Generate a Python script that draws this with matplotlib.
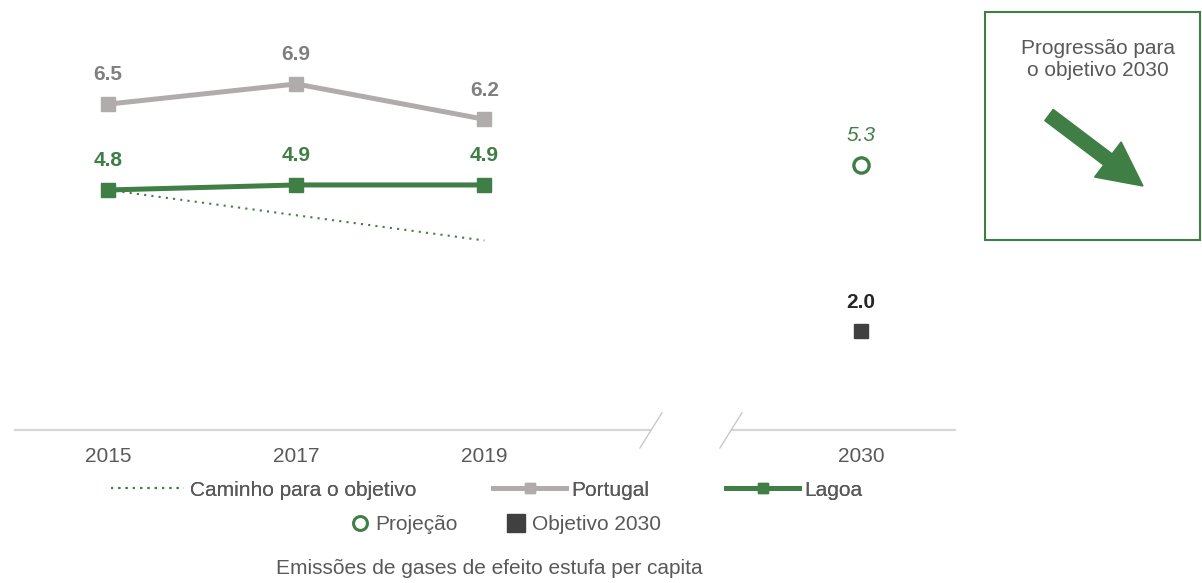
import matplotlib
matplotlib.use('Agg')
import matplotlib.pyplot as plt
from matplotlib.lines import Line2D
from matplotlib.patches import Rectangle, FancyArrow
from matplotlib.transforms import IdentityTransform

plt.rcParams['font.family'] = ['Liberation Sans', 'DejaVu Sans']

# data
years = ['2015', '2017', '2019', '2030']
year_pos = [0, 1, 2, 4]          # 2030 sits after the axis break
portugal = [6.5, 6.9, 6.2]
lagoa = [4.8, 4.9, 4.9]
caminho = [4.8, 4.3, 3.8]        # path towards the 2030 target
projecao_2030 = 5.3
objetivo_2030 = 2.0

GREEN = '#3f7e44'
GREY_LINE = '#b1acac'
GREY_LABEL = '#7f7f7f'
TEXT = '#595959'
DARK = '#404040'

fig = plt.figure(figsize=(12.02, 5.83), dpi=100)
ax = fig.add_axes([15 / 1202, (583 - 430) / 583, 940 / 1202, 430 / 583])
ax.set_xlim(-0.494, 4.5)
ax.set_ylim(0.048, 8.562)

past = year_pos[:3]

# lines
ax.plot(past, caminho, color=GREEN, lw=1.5, linestyle=(0, (1, 2.5)), zorder=2)
ax.plot(past, portugal, color=GREY_LINE, lw=3.6, marker='s', ms=10, zorder=3)
ax.plot(past, lagoa, color=GREEN, lw=3.6, marker='s', ms=10, zorder=4)
ax.plot([year_pos[3]], [projecao_2030], marker='o', ms=11, mfc='white',
        mec=GREEN, mew=2.4, ls='none', zorder=4)
ax.plot([year_pos[3]], [objetivo_2030], marker='s', ms=10, color=DARK,
        ls='none', zorder=4)

# value labels
for x, v in zip(past, portugal):
    ax.annotate(f'{v:.1f}', (x, v), xytext=(0, 21), textcoords='offset points',
                ha='center', va='center', fontsize=15, fontweight='bold', color=GREY_LABEL)
for x, v in zip(past, lagoa):
    ax.annotate(f'{v:.1f}', (x, v), xytext=(0, 21), textcoords='offset points',
                ha='center', va='center', fontsize=15, fontweight='bold', color=GREEN)
ax.annotate(f'{projecao_2030:.1f}', (year_pos[3], projecao_2030), xytext=(0, 21),
            textcoords='offset points', ha='center', va='center', fontsize=15,
            fontstyle='italic', color=GREEN)
ax.annotate(f'{objetivo_2030:.1f}', (year_pos[3], objetivo_2030), xytext=(0, 21),
            textcoords='offset points', ha='center', va='center', fontsize=15,
            fontweight='bold', color='#262626')

# x axis with break
for s in ax.spines.values():
    s.set_visible(False)
ax.set_yticks([])
ax.set_xticks(year_pos, years)
ax.tick_params(axis='x', length=0, pad=12, labelsize=15, labelcolor=TEXT)

xt = ax.get_xaxis_transform()
brk_l, brk_r = 2.88, 3.315
ax.plot([-0.494, brk_l], [0, 0], color='#d6d6d6', lw=1.6, transform=xt, clip_on=False)
ax.plot([brk_r, 4.5], [0, 0], color='#d6d6d6', lw=1.6, transform=xt, clip_on=False)
for x0 in (2.826, 3.251):
    ax.plot([x0, x0 + 0.117], [-0.042, 0.04], color='#c8c8c8', lw=1,
            transform=xt, clip_on=False)

# legend, two rows
h1 = [Line2D([], [], color=GREEN, lw=1.5, linestyle=(0, (1, 2.5))),
      Line2D([], [], color=GREY_LINE, lw=3.6, marker='s', ms=7),
      Line2D([], [], color=GREEN, lw=3.6, marker='s', ms=7)]
leg1 = fig.legend(h1, ['Caminho para o objetivo', 'Portugal', 'Lagoa'],
                  loc='center', bbox_to_anchor=(487 / 1202, (583 - 490) / 583),
                  ncol=3, frameon=False, fontsize=15, labelcolor=TEXT,
                  handlelength=3.5, handletextpad=0.25, columnspacing=3.7,
                  borderpad=0, borderaxespad=0)
h2 = [Line2D([], [], marker='o', ms=10, mfc='white', mec=GREEN, mew=2.2, ls='none'),
      Line2D([], [], marker='s', ms=13, color=DARK, ls='none')]
fig.legend(h2, ['Projeção', 'Objetivo 2030'],
           loc='center', bbox_to_anchor=(505 / 1202, (583 - 525) / 583),
           ncol=2, frameon=False, fontsize=15, labelcolor=TEXT,
           handlelength=1.0, handletextpad=0.25, columnspacing=2.3,
           borderpad=0, borderaxespad=0)
fig.add_artist(leg1)

fig.text(489 / 1202, (583 - 568) / 583, 'Emissões de gases de efeito estufa per capita',
         ha='center', va='center', fontsize=15, color=TEXT)

# progress box
fig.add_artist(Rectangle((985 / 1202, (583 - 240) / 583), 215 / 1202, 228 / 583,
                         transform=fig.transFigure, fill=False, ec=GREEN, lw=1.5))
fig.text(1098 / 1202, (583 - 59) / 583, 'Progressão para\no objetivo 2030',
         ha='center', va='center', fontsize=15, color=TEXT, linespacing=1.2)
arrow = FancyArrow(1049, 583 - 115, 94, -71, width=14, head_width=44,
                   head_length=44, length_includes_head=True,
                   color=GREEN, transform=IdentityTransform())
fig.add_artist(arrow)

fig.savefig('out.png', dpi=100)
